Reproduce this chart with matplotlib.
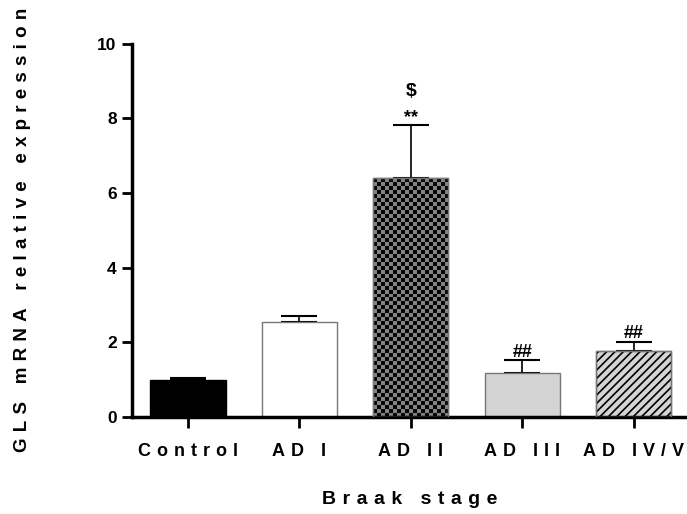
import numpy as np
import matplotlib.pyplot as plt
from matplotlib.patches import Rectangle

plt.rcParams['font.family'] = ['Liberation Sans', 'DejaVu Sans']
plt.rcParams['font.weight'] = 'bold'
plt.rcParams['hatch.linewidth'] = 1.2

# data
groups = ['Control', 'AD I', 'AD II', 'AD III', 'AD IV/V']
means = [1.0, 2.55, 6.40, 1.18, 1.77]
sems = [0.05, 0.16, 1.42, 0.35, 0.25]
marks = ['', '', '**', '##', '##']
y_ticks = [0, 2, 4, 6, 8, 10]


def spaced(s, gap='\u2004'):
    # fake letter spacing like the prism export
    return gap.join(s)


fig = plt.figure(figsize=(6.87, 5.14), dpi=100)
ax = fig.add_axes([0.192, 0.189, 0.808, 0.7257])

x = np.arange(len(groups))
w = 0.675
faces = ['black', 'white', '#555555', '#d4d4d4', '#d4d4d4']
edges = ['black', '#777777', '#777777', '#777777', '#777777']

bars = ax.bar(x, means, width=w, color=faces, edgecolor=edges, linewidth=1.0, zorder=2)

# black diagonal hatch for AD IV/V
b4 = bars[4]
ax.add_patch(Rectangle((b4.get_x(), 0), w, means[4], fill=False, hatch='////',
                       edgecolor='black', lw=0, zorder=2.4))
ax.add_patch(Rectangle((b4.get_x(), 0), w, means[4], fill=False,
                       edgecolor='#777777', lw=1.0, zorder=2.6))

# checkerboard fill for AD II
b = bars[2]
n_col = 19
n_row = 60
board = (np.indices((n_row, n_col)).sum(axis=0) % 2).astype(float)
im = ax.imshow(board, cmap='gray', vmin=-0.05, vmax=2.0, interpolation='nearest',
               extent=(b.get_x(), b.get_x() + w, 0, means[2]), aspect='auto', zorder=2.5)
im.set_clip_path(b)
ax.add_patch(Rectangle((b.get_x(), 0), w, means[2], fill=False, edgecolor='#777777', lw=1.0, zorder=3))

# one sided error bars
ax.errorbar(x, means, yerr=[np.zeros(len(sems)), sems], fmt='none', ecolor='black',
            elinewidth=1.2, capsize=13, capthick=1.5, zorder=1.5)

for i, m in enumerate(marks):
    if m:
        ax.text(x[i], means[i] + sems[i] - 0.02, m, ha='center', va='bottom',
                fontsize=13, fontweight='bold')
ax.text(x[2], 8.5, '$', ha='center', va='bottom', fontsize=14, fontweight='bold')

ax.set_xlim(-0.503, 4.48)
ax.set_ylim(0, 10)
ax.set_yticks(y_ticks)
ax.set_xticks(x)
ax.set_xticklabels([spaced(g) for g in groups], fontsize=13, fontweight='bold')
ax.tick_params(axis='y', labelsize=12.5, width=2, length=7, pad=4)
ax.tick_params(axis='x', width=2, length=8, pad=11)
for lbl in ax.get_yticklabels():
    lbl.set_fontweight('bold')

ax.spines['top'].set_visible(False)
ax.spines['right'].set_visible(False)
ax.spines['left'].set_linewidth(2.5)
ax.spines['bottom'].set_linewidth(2.5)

ax.set_xlabel(spaced('Braak stage'), fontsize=14, fontweight='bold', labelpad=22)
ax.set_ylabel(spaced('GLS mRNA relative expression'), fontsize=13.5,
              fontweight='bold', labelpad=48)

fig.savefig('out.png', dpi=100)
